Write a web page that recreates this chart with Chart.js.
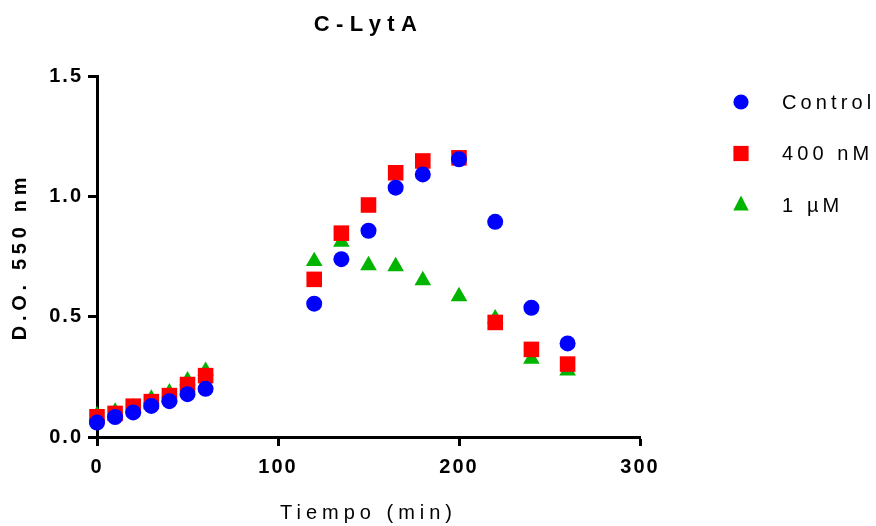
<!DOCTYPE html>
<html>
<head>
<meta charset="utf-8">
<script src="https://cdn.jsdelivr.net/npm/chart.js@4.4.1/dist/chart.umd.min.js"></script>
<style>
  html, body { margin: 0; padding: 0; background: #fff; }
  #wrap { width: 876px; height: 526px; }
</style>
</head>
<body>
<div id="wrap"><canvas id="chart" width="876" height="526"></canvas></div>
<script>
// data
const times = [0, 10, 20, 30, 40, 50, 60, 120, 135, 150, 165, 180, 200, 220, 240, 260];
const control = [0.06, 0.083, 0.102, 0.129, 0.149, 0.178, 0.2, 0.554, 0.739, 0.857, 1.036, 1.091, 1.154, 0.894, 0.537, 0.389];
const nm400 = [0.084, 0.098, 0.128, 0.147, 0.172, 0.218, 0.255, 0.655, 0.847, 0.964, 1.098, 1.147, 1.16, 0.476, 0.364, 0.303];
const um1 = [0.09, 0.105, 0.122, 0.158, 0.184, 0.234, 0.274, 0.73, 0.81, 0.713, 0.709, 0.651, 0.584, 0.492, 0.324, 0.276];
const seriesNames = ["Control", "400 nM", "1 \u00b5M"];
const xTicks = [0, 100, 200, 300];
const yTicks = [0, 0.5, 1.0, 1.5];

const FONT = "'Liberation Sans', Arial, Helvetica, sans-serif";

const toPoints = (vals) => times.map((t, i) => ({ x: t, y: vals[i] }));

//wide letter spacing like the original, tighter on numbers
const spacing = {
  id: "spacing",
  beforeInit(chart) {
    const ctx = chart.ctx;
    const fill = ctx.fillText.bind(ctx);
    ctx.fillText = (text, x, y, w) => {
      const s = String(text);
      if (/^[\d.]+$/.test(s)) ctx.letterSpacing = "2px";
      else if (s === "C-LytA") ctx.letterSpacing = "6.4px";
      else if (s === "D.O. 550 nm") ctx.letterSpacing = "4.7px";
      else if (seriesNames.includes(s)) ctx.letterSpacing = "4.1px";
      else ctx.letterSpacing = "5px";
      if (w === undefined) fill(text, x, y);
      else fill(text, x, y, w);
    };
  },
};

//legend on the right
const sideLegend = {
  id: "sideLegend",
  afterDraw(chart) {
    const ctx = chart.ctx;
    const x0 = chart.chartArea.right + 101;
    const y0 = chart.chartArea.top + 26;
    ctx.save();
    ctx.font = "20px " + FONT;
    ctx.textBaseline = "middle";
    chart.data.datasets.forEach((ds, i) => {
      const y = y0 + i * 51.5;
      ctx.fillStyle = ds.backgroundColor;
      ctx.beginPath();
      if (ds.pointStyle === "circle") {
        ctx.arc(x0, y, 7.6, 0, Math.PI * 2);
      } else if (ds.pointStyle === "rect") {
        ctx.rect(x0 - 7.6, y - 7.6, 15.2, 15.2);
      } else {
        ctx.moveTo(x0, y - 9.5);
        ctx.lineTo(x0 + 7.7, y + 5.5);
        ctx.lineTo(x0 - 7.7, y + 5.5);
        ctx.closePath();
      }
      ctx.fill();
      ctx.fillStyle = "#000";
      ctx.fillText(ds.label, x0 + 41, y + 1);
    });
    ctx.restore();
  },
};

const chart = document.getElementById("chart").getContext("2d");

new Chart(chart, {
  type: "scatter",
  data: {
    datasets: [
      {
        label: seriesNames[0],
        data: toPoints(control),
        pointStyle: "circle",
        pointRadius: 8,
        backgroundColor: "#0000ff",
        borderWidth: 0,
        clip: false,
      },
      {
        label: seriesNames[1],
        data: toPoints(nm400),
        pointStyle: "rect",
        pointRadius: 11,
        backgroundColor: "#ff0000",
        borderWidth: 0,
        clip: false,
      },
      {
        label: seriesNames[2],
        data: toPoints(um1),
        pointStyle: "triangle",
        pointRadius: 9.6,
        backgroundColor: "#00b400",
        borderWidth: 0,
        clip: false,
      },
    ],
  },
  options: {
    responsive: false,
    animation: false,
    layout: { padding: { left: 0, right: 236, top: 0, bottom: 0 } },
    plugins: {
      legend: { display: false },
      tooltip: { enabled: false },
      title: {
        display: true,
        text: "C-LytA",
        fullSize: false,
        color: "#000",
        font: { family: FONT, size: 22, weight: "bold" },
        padding: { top: 12, bottom: 37.6 },
      },
    },
    scales: {
      x: {
        type: "linear",
        min: 0,
        max: 300,
        afterFit: (s) => { s.height = 89; },
        afterBuildTicks: (s) => { s.ticks = xTicks.map((v) => ({ value: v })); },
        border: { display: true, color: "#000", width: 3 },
        grid: { drawOnChartArea: false, drawTicks: true, tickLength: 9, tickWidth: 3, tickColor: "#000" },
        ticks: {
          color: "#000",
          padding: 9,
          font: { family: FONT, size: 20, weight: "bold" },
          callback: (v) => String(v),
        },
        title: {
          display: true,
          text: "Tiempo (min)",
          color: "#000",
          font: { family: FONT, size: 20 },
          padding: { top: 0, bottom: 1 },
        },
      },
      y: {
        type: "linear",
        min: 0,
        max: 1.5,
        afterFit: (s) => { s.width = 97; },
        afterBuildTicks: (s) => { s.ticks = yTicks.map((v) => ({ value: v })); },
        border: { display: true, color: "#000", width: 3 },
        grid: { drawOnChartArea: false, drawTicks: true, tickLength: 9, tickWidth: 3, tickColor: "#000" },
        ticks: {
          color: "#000",
          padding: 5,
          font: { family: FONT, size: 20, weight: "bold" },
          callback: (v) => v.toFixed(1),
        },
        title: {
          display: true,
          text: "D.O. 550 nm",
          color: "#000",
          font: { family: FONT, size: 20, weight: "bold" },
          padding: { top: 8, bottom: 0 },
        },
      },
    },
  },
  plugins: [spacing, sideLegend],
});
</script>
</body>
</html>
